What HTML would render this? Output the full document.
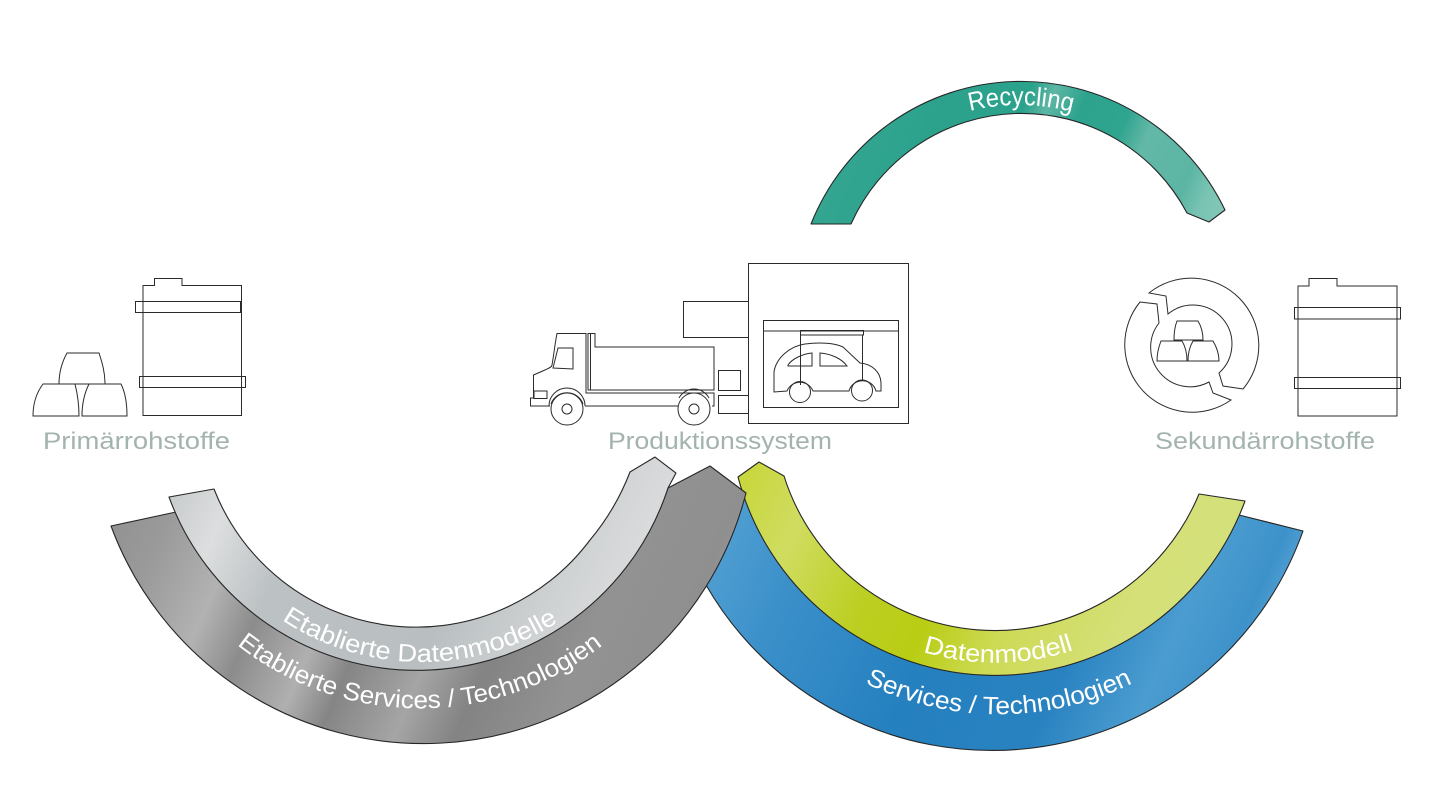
<!DOCTYPE html>
<html lang="de">
<head>
<meta charset="utf-8">
<title>Diagramm</title>
<style>
html,body{margin:0;padding:0;background:#fff;width:1440px;height:810px;overflow:hidden}
svg{display:block}
.n{fill:none;stroke:#2b2b2b;stroke-width:1}
.b{stroke:#262626;stroke-width:1.1;stroke-linejoin:round}
.l{font-family:"Liberation Sans",sans-serif;font-size:24px;fill:#a3b3ae}
.c{font-family:"Liberation Sans",sans-serif;fill:#fff}
</style>
</head>
<body>
<svg width="1440" height="810" viewBox="0 0 1440 810" xmlns="http://www.w3.org/2000/svg">
<defs>
<linearGradient id="gTeal" gradientUnits="userSpaceOnUse" x1="810" y1="60" x2="1225" y2="230">
<stop offset="0" stop-color="#3aa893"/><stop offset=".3" stop-color="#2ca28d"/><stop offset=".48" stop-color="#2ba28c"/><stop offset=".53" stop-color="#5db6a4"/><stop offset=".6" stop-color="#2da38e"/><stop offset=".7" stop-color="#2fa48f"/><stop offset=".76" stop-color="#63b8a7"/><stop offset=".88" stop-color="#5cb5a3"/><stop offset=".93" stop-color="#79c3b3"/><stop offset="1" stop-color="#86c9ba"/>
</linearGradient>
<linearGradient id="gGrey" gradientUnits="userSpaceOnUse" x1="110" y1="480" x2="750" y2="760">
<stop offset="0" stop-color="#8f8f8f"/><stop offset=".1" stop-color="#9a9a9a"/><stop offset=".2" stop-color="#b2b2b2"/><stop offset=".27" stop-color="#8c8c8c"/><stop offset=".36" stop-color="#b0b0b0"/><stop offset=".42" stop-color="#858585"/><stop offset=".52" stop-color="#a5a5a5"/><stop offset=".6" stop-color="#838383"/><stop offset=".72" stop-color="#929292"/><stop offset=".84" stop-color="#8f8f8f"/><stop offset=".92" stop-color="#b0b0b0"/><stop offset="1" stop-color="#8e8e8e"/>
</linearGradient>
<linearGradient id="gLight" gradientUnits="userSpaceOnUse" x1="170" y1="470" x2="680" y2="700">
<stop offset="0" stop-color="#c5c8c9"/><stop offset=".12" stop-color="#dcdedf"/><stop offset=".25" stop-color="#bcc1c3"/><stop offset=".55" stop-color="#b9bfc1"/><stop offset=".72" stop-color="#cfd2d3"/><stop offset=".88" stop-color="#dedfe0"/><stop offset="1" stop-color="#eceded"/>
</linearGradient>
<linearGradient id="gBlue" gradientUnits="userSpaceOnUse" x1="700" y1="470" x2="1310" y2="740">
<stop offset="0" stop-color="#5aa6d6"/><stop offset=".2" stop-color="#3a8fc9"/><stop offset=".42" stop-color="#2580bf"/><stop offset=".62" stop-color="#2982c0"/><stop offset=".75" stop-color="#4b9dd0"/><stop offset=".84" stop-color="#3d92ca"/><stop offset=".92" stop-color="#6aafd9"/><stop offset="1" stop-color="#86bfe0"/>
</linearGradient>
<linearGradient id="gGreen" gradientUnits="userSpaceOnUse" x1="735" y1="470" x2="1250" y2="690">
<stop offset="0" stop-color="#c7d637"/><stop offset=".14" stop-color="#d0dc60"/><stop offset=".3" stop-color="#bccf22"/><stop offset=".42" stop-color="#b9cd14"/><stop offset=".55" stop-color="#cdda55"/><stop offset=".75" stop-color="#d5e078"/><stop offset=".87" stop-color="#d4e07a"/><stop offset=".93" stop-color="#e9f0bb"/><stop offset="1" stop-color="#d3e07c"/>
</linearGradient>
<path id="pRec" d="M970 111 A203 203 0 0 1 1072 112"/>
<path id="pLight" d="M282 620 A253 253 0 0 0 558 622"/>
<path id="pGrey" d="M237 645 A296 296 0 0 0 603 645"/>
<path id="pGreen" d="M923 652 A252 252 0 0 0 1074 650"/>
<path id="pBlue" d="M865 683 A303 303 0 0 0 1133 683"/>
</defs>

<!-- Recycling band -->
<path class="b" fill="url(#gTeal)" d="M811 224 A226 226 0 0 1 1225 210 L1209 222 L1187 213 A187 187 0 0 0 851 224 Z"/>
<text class="c" font-size="26"><textPath href="#pRec" textLength="103" lengthAdjust="spacingAndGlyphs">Recycling</textPath></text>

<!-- Blue band -->
<path class="b" fill="url(#gBlue)" d="M1303 531 A330 330 0 0 1 706 585 L746 493 A270 270 0 0 0 1239 515 Z"/>
<!-- Green band -->
<path class="b" fill="url(#gGreen)" d="M738 477 L759 462 L784 476 A221 221 0 0 0 1199 494 L1245 501 A266 266 0 0 1 738 477 Z"/>
<!-- Grey band -->
<path class="b" fill="url(#gGrey)" d="M111 526 L176 512 A264 264 0 0 0 668 488 L710 466 L746 493 A333 333 0 0 1 111 526 Z"/>
<!-- Light band -->
<path class="b" fill="url(#gLight)" d="M169 497 L214 489 A217 217 0 0 0 590 540 A240 240 0 0 0 630 472 L655 457 L676 473 L668 488 A264 264 0 0 1 169 497 Z"/>

<text class="c" font-size="25"><textPath href="#pLight" textLength="292" lengthAdjust="spacingAndGlyphs">Etablierte Datenmodelle</textPath></text>
<text class="c" font-size="25"><textPath href="#pGrey" textLength="394" lengthAdjust="spacingAndGlyphs">Etablierte Services / Technologien</textPath></text>
<text class="c" font-size="25"><textPath href="#pGreen" textLength="153" lengthAdjust="spacingAndGlyphs">Datenmodell</textPath></text>
<text class="c" font-size="25"><textPath href="#pBlue" textLength="277" lengthAdjust="spacingAndGlyphs">Services / Technologien</textPath></text>

<!-- Left canister -->
<path class="n" d="M143 285.5 H154.5 V278.5 H182 V285.5 H241.5 V415.5 H143 Z"/>
<rect class="n" x="135.5" y="301.5" width="105" height="11"/>
<rect class="n" x="139.5" y="376.5" width="106" height="11"/>
<!-- Left ingots -->
<path class="n" d="M59 384 C59 372 62 362 67 353 H99 C102 362 105 372 105 384 Z"/>
<path class="n" d="M33 416 C33 402 37 392 43 384 H75 C77 392 79 402 79 416 Z"/>
<path class="n" d="M82 416 C82 402 85 392 89 384 H121 C125 392 127 402 127 416 Z"/>

<!-- Factory -->
<rect class="n" x="683.5" y="301.5" width="65" height="36"/>
<rect class="n" x="718.5" y="370.5" width="22" height="20"/>
<rect class="n" x="718.5" y="395.5" width="30" height="18"/>
<rect class="n" x="748.5" y="263.5" width="160" height="160"/>
<rect class="n" x="763.5" y="320.5" width="135" height="87"/>
<path class="n" d="M763.5 331 H898.5"/>
<!-- Car -->
<path class="n" d="M774 392 L774 372 C776 358 790 346 805 344 C820 342 835 343 843 347 L860 363 C872 364 881 372 881 384 L881 391 L876 391 A14 14 0 0 0 849 391 L813 391 A14 14 0 0 0 787 391 Z"/>
<path class="n" d="M788 365 C792 359 802 354 812 353 V366 H788 Z"/>
<path class="n" d="M820 353 C832 354 842 359 847 366 H820 Z"/>
<circle class="n" cx="800" cy="392" r="10.5"/>
<circle class="n" cx="862" cy="390.5" r="10.5"/>
<rect class="n" x="800.5" y="330.5" width="63" height="4.5" stroke-width="1.3"/>
<path class="n" d="M800.5 335 V385 M862.5 335 V381"/>

<!-- Truck -->
<path class="n" d="M550 406 H530.5 V398 H533.5 V375 L545 370 C549 368 552 367 552 365 C554 354 555 343 557 333.5 H586 V393 H714 V406 H712 M678 406 H585"/>
<path class="n" d="M558 348 H573 V369 L553 368 Z"/>
<rect class="n" x="534" y="391" width="13" height="7.5"/>
<path class="n" d="M588 333.5 H595 V347 H714 V390 H588 Z M590.5 333.5 V390"/>
<path class="n" d="M549 406 A18 18 0 0 1 585 406"/>
<path class="n" d="M551 404 A17 17 0 0 1 583 404"/>
<path class="n" d="M679 398 A17 17 0 0 1 709 398"/>
<circle class="n" cx="567" cy="409" r="16"/>
<circle class="n" cx="567" cy="409" r="5"/>
<circle class="n" cx="694" cy="409" r="16"/>
<circle class="n" cx="694" cy="409" r="5"/>

<!-- Recycle icon -->
<path class="n" d="M1149 293 A67.5 67.5 0 0 1 1243 389 L1223 386 L1219 373 A39 39 0 0 0 1168 314 L1166 296 Z"/>
<path class="n" d="M1140 302 L1157 304 L1159 323 A39.5 39.5 0 0 0 1209 382 L1213 393 L1231 400 A67.5 67.5 0 0 1 1140 302 Z"/>
<path class="n" d="M1174 340 C1174 332 1175 326 1177 321 H1198 C1201 326 1203 332 1203 340 Z"/>
<path class="n" d="M1157 361 C1157 352 1159 346 1161 341 H1182 C1185 346 1187 352 1187 361 Z"/>
<path class="n" d="M1188 361 C1188 352 1190 346 1193 341 H1213 C1216 346 1219 352 1219 361 Z"/>

<!-- Right canister -->
<path class="n" d="M1298 286 H1309 V278.5 H1337 V286 H1397 V416 H1298 Z"/>
<rect class="n" x="1294.5" y="307.5" width="106" height="11.5"/>
<rect class="n" x="1294.5" y="377.5" width="106" height="11"/>

<!-- Labels -->
<text class="l" x="43" y="449" textLength="187" lengthAdjust="spacingAndGlyphs">Primärrohstoffe</text>
<text class="l" x="608" y="449" textLength="224" lengthAdjust="spacingAndGlyphs">Produktionssystem</text>
<text class="l" x="1155" y="449" textLength="220" lengthAdjust="spacingAndGlyphs">Sekundärrohstoffe</text>
</svg>
</body>
</html>
